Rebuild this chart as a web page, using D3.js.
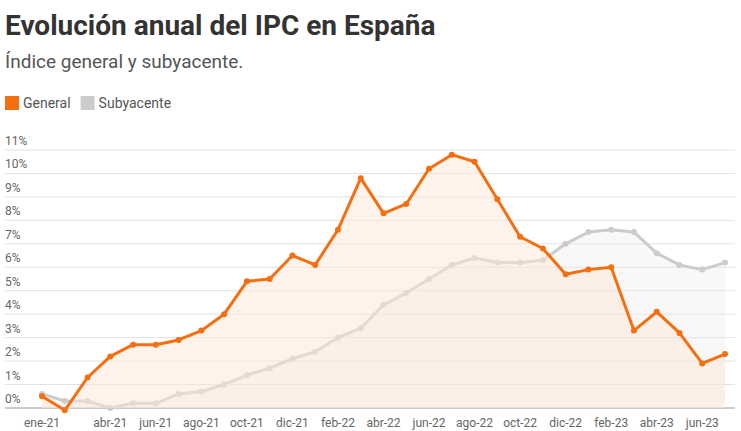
<!DOCTYPE html>
<html><head><meta charset="utf-8">
<script src="https://cdn.jsdelivr.net/npm/d3@7"></script>
<style>
body{margin:0;background:#fff;font-family:Roboto,sans-serif;}
</style></head>
<body><div id="app"></div>
<script>
const months = ["ene-21","feb-21","mar-21","abr-21","may-21","jun-21","jul-21","ago-21","sep-21","oct-21","nov-21","dic-21",
  "ene-22","feb-22","mar-22","abr-22","may-22","jun-22","jul-22","ago-22","sep-22","oct-22","nov-22","dic-22",
  "ene-23","feb-23","mar-23","abr-23","may-23","jun-23","jul-23"];
const general = [0.5,-0.1,1.3,2.2,2.7,2.7,2.9,3.3,4.0,5.4,5.5,6.5,6.1,7.6,9.8,8.3,8.7,10.2,10.8,10.5,8.9,7.3,6.8,5.7,5.9,6.0,3.3,4.1,3.2,1.9,2.3];
const subyacente = [0.6,0.3,0.3,0.0,0.2,0.2,0.6,0.7,1.0,1.4,1.7,2.1,2.4,3.0,3.4,4.4,4.9,5.5,6.1,6.4,6.2,6.2,6.3,7.0,7.5,7.6,7.5,6.6,6.1,5.9,6.2];
const xTickLabels = ["ene-21","abr-21","jun-21","ago-21","oct-21","dic-21","feb-22","abr-22","jun-22","ago-22","oct-22","dic-22","feb-23","abr-23","jun-23"];
const yTicks = [0,1,2,3,4,5,6,7,8,9,10,11];

const W = 741, H = 431;
const svg = d3.select("#app").append("svg").attr("width", W).attr("height", H);

svg.append("text").attr("x", 5).attr("y", 35).attr("font-size", 28).attr("font-weight", 700)
  .attr("fill", "#333").text("Evolución anual del IPC en España");
svg.append("text").attr("x", 5).attr("y", 68).attr("font-size", 19).attr("fill", "#555")
  .text("Índice general y subyacente.");

// legend
const legend = [["General", "#f56e0f"], ["Subyacente", "#cccccc"]];
let lx = 5;
legend.forEach(([name, c]) => {
  svg.append("rect").attr("x", lx).attr("y", 96).attr("width", 14).attr("height", 14).attr("fill", c);
  const t = svg.append("text").attr("x", lx + 18).attr("y", 108).attr("font-size", 14).attr("fill", "#555").text(name);
  lx += 18 + t.node().getComputedTextLength() + 10;
});

const x = d3.scalePoint().domain(months).range([42, 725]);
const y = d3.scaleLinear().domain([0, 11]).range([408, 150]);

// grid
yTicks.forEach(v => {
  svg.append("line").attr("x1", 5).attr("x2", 735).attr("y1", y(v)).attr("y2", y(v))
    .attr("stroke", v === 0 ? "#999" : "#e2e2e2").attr("stroke-width", 1);
  svg.append("text").attr("x", 5).attr("y", y(v) - 5).attr("font-size", 12).attr("fill", "#666").text(v + "%");
});

xTickLabels.forEach(m => {
  svg.append("text").attr("x", x(m)).attr("y", 427).attr("text-anchor", "middle")
    .attr("font-size", 12).attr("fill", "#666").text(m);
});

function series(vals, color, fill, fillOp, r) {
  const area = d3.area().x((d, i) => x(months[i])).y0(y(0)).y1(d => y(d));
  const line = d3.line().x((d, i) => x(months[i])).y(d => y(d));
  svg.append("path").attr("d", area(vals)).attr("fill", fill).attr("opacity", fillOp);
  svg.append("path").attr("d", line(vals)).attr("fill", "none").attr("stroke", color).attr("stroke-width", 3)
    .attr("stroke-linejoin", "round");
  svg.selectAll(null).data(vals).enter().append("circle")
    .attr("cx", (d, i) => x(months[i])).attr("cy", d => y(d)).attr("r", r).attr("fill", color);
}
series(subyacente, "#cccccc", "#ececec", 0.35, 3);
series(general, "#f56e0f", "#fde7d8", 0.5, 3);
</script></body></html>
